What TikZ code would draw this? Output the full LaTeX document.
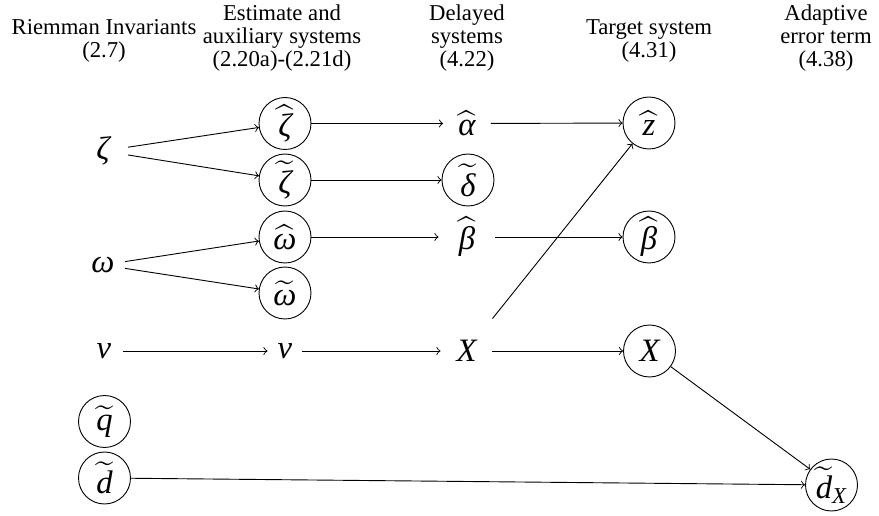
\documentclass[tikz,border=0pt]{standalone}
\usepackage{amsmath}
\usepackage{exscale}
\usepackage[no-math]{fontspec}
\setmainfont{Liberation Serif}
\newcommand\mvar[1]{\textit{#1}}
\begin{document}
\begin{tikzpicture}[x=0.4405pt,y=-0.4405pt,
  hdr/.style={align=center,font=\fontsize{10}{10.2}\selectfont,inner sep=0pt},
  var/.style={font=\fontsize{14.4}{16}\selectfont,inner xsep=0pt,inner ysep=3pt,outer sep=0pt,minimum width=#1},
  var/.default=16pt,
  circ/.style={draw,circle,minimum size=22.9pt,inner sep=0.5pt,font=\fontsize{14.4}{16}\selectfont},
  arr/.style={->}]
\useasboundingbox (0,0) rectangle (879,516);
% headers
\node[hdr] (h1) at (104,41) {Riemman Invariants\\(2.7)};
\node[hdr] (h2) at (282,38) {Estimate and\\auxiliary systems\\(2.20a)-(2.21d)};
\node[hdr] (h3) at (467,38) {Delayed\\systems\\(4.22)};
\node[hdr] (h4) at (649,41) {Target system\\(4.31)};
\node[hdr] (h5) at (826,38) {Adaptive\\error term\\(4.38)};
% column 1
\node[var=22pt] (zeta) at (103,151) {$\mvar{ζ}$};
\node[var=19.4pt] (omega) at (103,265) {$\mvar{ω}$};
\node[var=16.7pt] (v1) at (104,351) {$\mvar{v}$};
\node[circ] (qt) at (104.5,421.5) {$\widetilde{\mvar{q}}$};
\node[circ] (dt) at (104.5,478) {$\widetilde{\mvar{d}}$};
% column 2
\node[circ] (zh) at (285,123.5) {$\widehat{\mvar{ζ}}$};
\node[circ] (zt) at (285,180) {$\widetilde{\mvar{ζ}}$};
\node[circ] (wh) at (285,237) {$\widehat{\mvar{ω}}$};
\node[circ] (wt) at (285,293) {$\widetilde{\mvar{ω}}$};
\node[var=15.4pt] (v2) at (285,351) {$\mvar{v}$};
% column 3
\node[var=21.1pt] (ah) at (467,123.5) {$\widehat{\mvar{α}}$};
\node[circ] (dlt) at (468,180) {$\widetilde{\mvar{δ}}$};
\node[var=25.1pt] (bh) at (467,237) {$\widehat{\mvar{β}}$};
\node[var=22.9pt,minimum height=32pt] (X) at (466.5,351) {$\mvar{X}$};
% column 4
\node[circ] (zz) at (649,123) {$\widehat{\mvar{z}}$};
\node[circ] (bc) at (649,237) {$\widehat{\mvar{β}}$};
\node[circ] (Xc) at (649.5,351) {$\mvar{X}$};
% column 5
\node[circ] (dX) at (831.5,485) {$\widetilde{\mvar{d}}_{\mvar{X}}$};
% arrows
\draw[arr] (zeta) -- (zh);
\draw[arr] (zeta) -- (zt);
\draw[arr] (omega) -- (wh);
\draw[arr] (omega) -- (wt);
\draw[arr] (v1) -- (v2);
\draw[arr] (zh) -- (ah);
\draw[arr] (zt) -- (dlt);
\draw[arr] (wh) -- (bh);
\draw[arr] (v2) -- (X);
\draw[arr] (ah) -- (zz);
\draw[arr] (bh) -- (bc);
\draw[arr] (X) -- (Xc);
\draw[arr] (X) -- (zz);
\draw[arr] (Xc) -- (dX);
\draw[arr] (dt) -- (dX);
\end{tikzpicture}
\end{document}
